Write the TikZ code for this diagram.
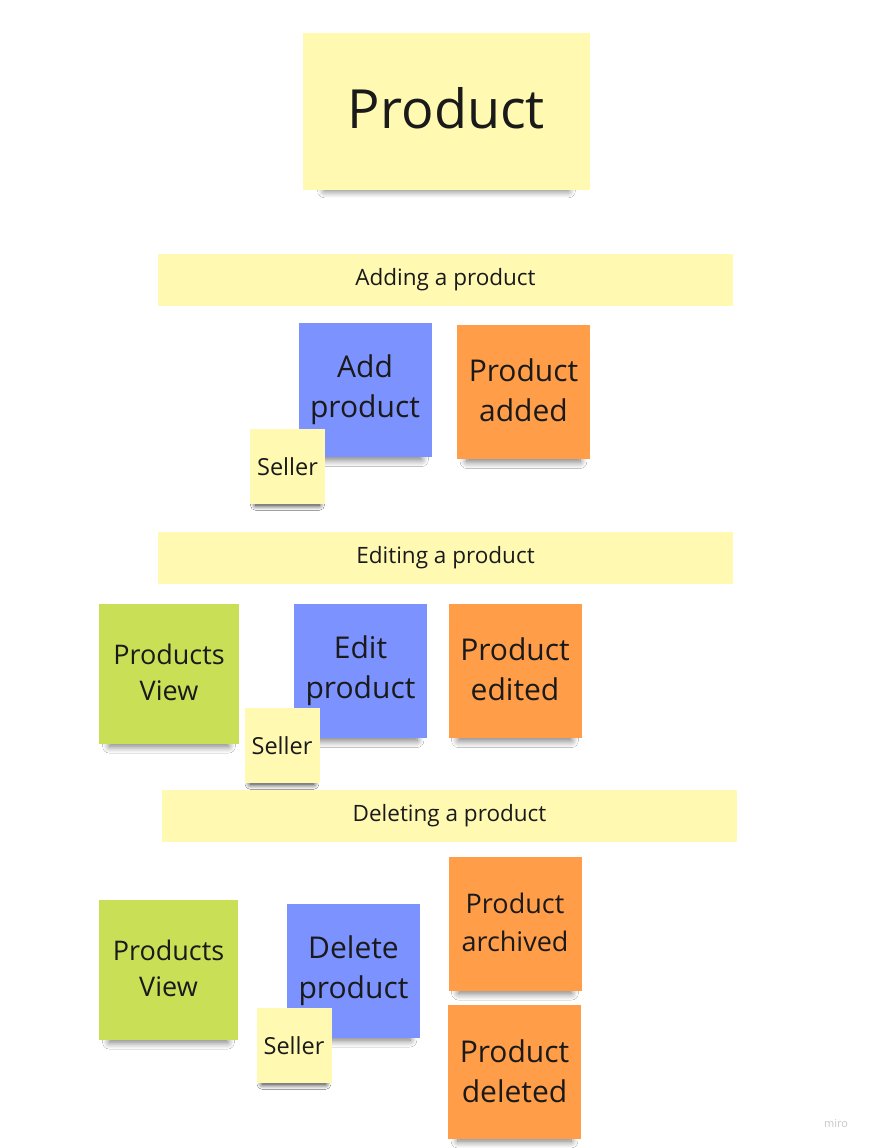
\documentclass[tikz,border=0pt]{standalone}
\usepackage{fontspec}
\setmainfont{Open Sans}
\usepackage{xcolor}
\usetikzlibrary{shadows.blur}
\definecolor{noteyellow}{HTML}{FFF9B1}
\definecolor{noteblue}{HTML}{7B92FF}
\definecolor{noteorange}{HTML}{FF9D48}
\definecolor{notegreen}{HTML}{C9DF56}
\definecolor{notetext}{HTML}{1A1A1A}
\begin{document}
\begin{tikzpicture}[x=1pt, y=-1pt,
% common options for the sticky notes:
note/.style = {rectangle, align=center, inner sep=0, text=notetext,
            font=\fontsize{30}{40}\selectfont,
            minimum width=133pt, minimum height=134pt,
            blur shadow={shadow xshift=0pt, shadow yshift=-15pt,
              shadow blur radius=8pt, shadow blur steps=10,
              shadow opacity=55, shadow scale=0.85}},
% common options for the small actor notes:
actor/.style = {note, fill=noteyellow, font=\fontsize{23.5}{28}\selectfont,
            minimum width=75pt, minimum height=75pt,
            blur shadow={shadow xshift=0pt, shadow yshift=-8pt,
              shadow blur radius=6pt, shadow blur steps=10,
              shadow opacity=50, shadow scale=0.85}},
% common options for the section bands:
band/.style = {rectangle, fill=noteyellow, text=notetext, inner sep=0,
            font=\fontsize{22.5}{26}\selectfont,
            minimum width=575pt, minimum height=52pt}]
\useasboundingbox[fill=white] (0,0) rectangle (870,1148);
% title
\node[note, fill=noteyellow, minimum width=287pt, minimum height=157pt,
      font=\fontsize{54}{60}\selectfont] (T0) at (446.5,111.5) {\raisebox{7pt}{Product}};
% adding
\node[band] (B1) at (445.5,279.5) {Adding a product};
\node[note, fill=noteblue] (A1) at (365,390) {Add\\product};
\node[note, fill=noteorange] (A2) at (523.5,392) {\raisebox{3pt}{Product}\\\raisebox{3pt}{added}};
\node[actor] (A3) at (287.5,466.5) {Seller};
% editing
\node[band] (B2) at (445.5,558) {Editing a product};
\node[note, fill=notegreen, minimum width=140pt, minimum height=140pt,
      font=\fontsize{27}{36}\selectfont] (E0) at (169,674) {\raisebox{3pt}{Products}\\\raisebox{3pt}{View}};
\node[note, fill=noteblue] (E1) at (360.5,671) {Edit\\product};
\node[note, fill=noteorange] (E2) at (515,671) {\raisebox{3pt}{Product}\\\raisebox{3pt}{edited}};
\node[actor] (E3) at (282,745.5) {Seller};
% deleting
\node[band] (B3) at (449.5,816) {Deleting a product};
\node[note, fill=notegreen, minimum width=139pt, minimum height=140pt,
      font=\fontsize{27}{36}\selectfont] (D0) at (168.5,970) {\raisebox{3pt}{Products}\\\raisebox{3pt}{View}};
\node[note, fill=noteblue] (D1) at (353.5,970.5) {Delete\\product};
\node[note, fill=noteorange, font=\fontsize{27}{38}\selectfont] (D2) at (515,923.5) {\raisebox{3pt}{Product}\\\raisebox{3pt}{archived}};
\node[note, fill=noteorange] (D3) at (514.5,1071.5) {Product\\deleted};
\node[actor] (D4) at (294,1045.5) {Seller};
% watermark
\node[text=black!22, font=\fontsize{11}{13}\selectfont] (W0) at (836,1124) {miro};
\end{tikzpicture}
\end{document}
